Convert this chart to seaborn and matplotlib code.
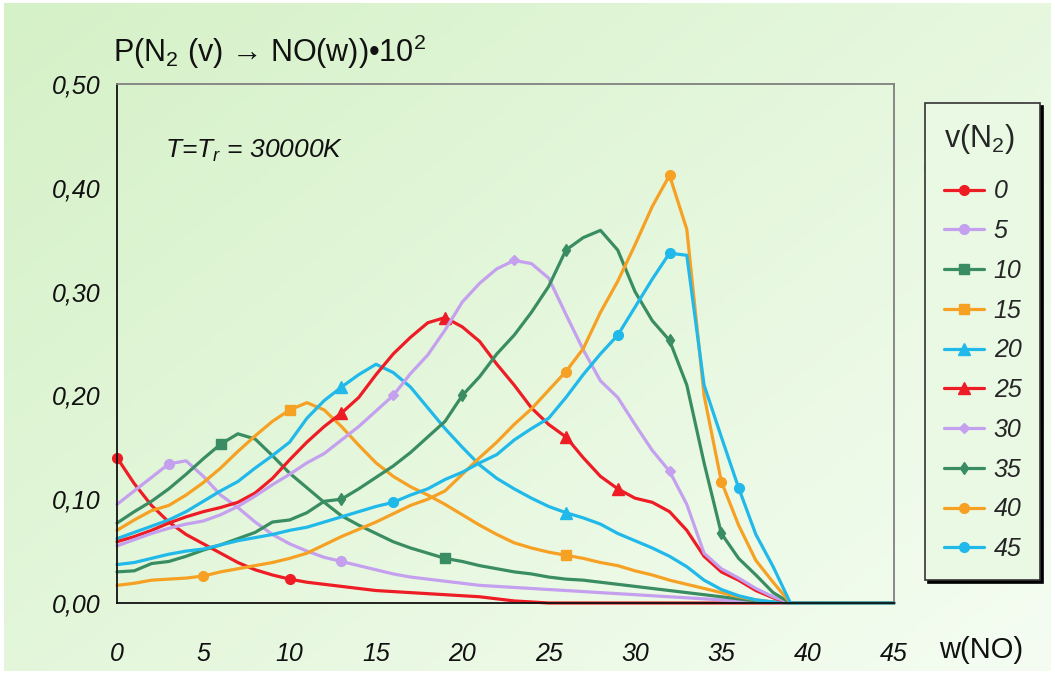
import numpy as np
import pandas as pd
import matplotlib
matplotlib.use("Agg")
import matplotlib.pyplot as plt
import seaborn as sns
from matplotlib.lines import Line2D

# ---------------- data ----------------
w_no = list(range(46))

p_v0 = [0.140, 0.115, 0.094, 0.078, 0.066, 0.057, 0.048, 0.039, 0.032, 0.027,
        0.023, 0.020, 0.018, 0.016, 0.014, 0.012, 0.011, 0.010, 0.009, 0.008,
        0.007, 0.006, 0.004, 0.002, 0.001, 0.000, 0.000, 0.000, 0.000, 0.000,
        0.000, 0.000, 0.000, 0.000, 0.000, 0.000, 0.000, 0.000, 0.000, 0.000,
        0.000, 0.000, 0.000, 0.000, 0.000, 0.000]
p_v5 = [0.095, 0.108, 0.121, 0.134, 0.137, 0.122, 0.104, 0.092, 0.078, 0.066,
        0.057, 0.050, 0.044, 0.040, 0.036, 0.032, 0.028, 0.025, 0.023, 0.021,
        0.019, 0.017, 0.016, 0.015, 0.014, 0.013, 0.012, 0.011, 0.010, 0.009,
        0.008, 0.007, 0.006, 0.005, 0.004, 0.003, 0.002, 0.001, 0.0005, 0.000,
        0.000, 0.000, 0.000, 0.000, 0.000, 0.000]
p_v10 = [0.077, 0.088, 0.098, 0.110, 0.124, 0.139, 0.153, 0.163, 0.158, 0.142,
         0.125, 0.111, 0.097, 0.084, 0.075, 0.067, 0.059, 0.053, 0.048, 0.043,
         0.040, 0.036, 0.033, 0.030, 0.028, 0.025, 0.023, 0.022, 0.020, 0.018,
         0.016, 0.014, 0.012, 0.010, 0.008, 0.006, 0.004, 0.002, 0.001, 0.000,
         0.000, 0.000, 0.000, 0.000, 0.000, 0.000]
p_v15 = [0.070, 0.080, 0.089, 0.094, 0.104, 0.116, 0.130, 0.146, 0.161, 0.175,
         0.186, 0.193, 0.186, 0.170, 0.152, 0.135, 0.122, 0.112, 0.104, 0.095,
         0.085, 0.075, 0.066, 0.058, 0.053, 0.049, 0.046, 0.043, 0.039, 0.036,
         0.031, 0.027, 0.022, 0.018, 0.014, 0.010, 0.006, 0.003, 0.001, 0.000,
         0.000, 0.000, 0.000, 0.000, 0.000, 0.000]
p_v20 = [0.062, 0.068, 0.074, 0.080, 0.088, 0.098, 0.108, 0.117, 0.130, 0.142,
         0.155, 0.178, 0.195, 0.208, 0.220, 0.230, 0.222, 0.208, 0.188, 0.168,
         0.150, 0.133, 0.120, 0.110, 0.101, 0.093, 0.087, 0.082, 0.076, 0.067,
         0.060, 0.053, 0.045, 0.035, 0.022, 0.013, 0.007, 0.003, 0.001, 0.000,
         0.000, 0.000, 0.000, 0.000, 0.000, 0.000]
p_v25 = [0.059, 0.064, 0.070, 0.077, 0.083, 0.088, 0.092, 0.097, 0.106, 0.120,
         0.138, 0.155, 0.170, 0.183, 0.198, 0.220, 0.240, 0.256, 0.270, 0.275,
         0.266, 0.252, 0.230, 0.210, 0.188, 0.172, 0.160, 0.140, 0.122, 0.110,
         0.101, 0.097, 0.088, 0.070, 0.045, 0.030, 0.022, 0.012, 0.005, 0.000,
         0.000, 0.000, 0.000, 0.000, 0.000, 0.000]
p_v30 = [0.055, 0.061, 0.067, 0.072, 0.076, 0.079, 0.085, 0.093, 0.103, 0.114,
         0.124, 0.135, 0.144, 0.157, 0.170, 0.185, 0.200, 0.221, 0.239, 0.263,
         0.290, 0.308, 0.322, 0.330, 0.327, 0.313, 0.278, 0.244, 0.214, 0.198,
         0.172, 0.147, 0.127, 0.095, 0.048, 0.033, 0.024, 0.014, 0.006, 0.000,
         0.000, 0.000, 0.000, 0.000, 0.000, 0.000]
p_v35 = [0.030, 0.031, 0.038, 0.040, 0.045, 0.051, 0.056, 0.062, 0.068, 0.078,
         0.080, 0.087, 0.098, 0.100, 0.110, 0.121, 0.132, 0.145, 0.160, 0.175,
         0.200, 0.218, 0.240, 0.258, 0.280, 0.305, 0.340, 0.352, 0.359, 0.340,
         0.300, 0.272, 0.253, 0.210, 0.135, 0.067, 0.043, 0.027, 0.010, 0.000,
         0.000, 0.000, 0.000, 0.000, 0.000, 0.000]
p_v40 = [0.017, 0.019, 0.022, 0.023, 0.024, 0.026, 0.030, 0.033, 0.036, 0.039,
         0.043, 0.048, 0.056, 0.064, 0.071, 0.078, 0.086, 0.094, 0.100, 0.108,
         0.124, 0.140, 0.155, 0.172, 0.187, 0.205, 0.223, 0.245, 0.280, 0.310,
         0.345, 0.382, 0.412, 0.360, 0.200, 0.117, 0.075, 0.041, 0.020, 0.000,
         0.000, 0.000, 0.000, 0.000, 0.000, 0.000]
p_v45 = [0.037, 0.039, 0.043, 0.047, 0.050, 0.052, 0.056, 0.060, 0.063, 0.066,
         0.070, 0.073, 0.078, 0.083, 0.088, 0.093, 0.097, 0.104, 0.110, 0.119,
         0.126, 0.135, 0.143, 0.157, 0.168, 0.178, 0.198, 0.220, 0.240, 0.258,
         0.285, 0.312, 0.337, 0.335, 0.210, 0.160, 0.111, 0.066, 0.035, 0.000,
         0.000, 0.000, 0.000, 0.000, 0.000, 0.000]

v_labels = ["0", "5", "10", "15", "20", "25", "30", "35", "40", "45"]
series = [p_v0, p_v5, p_v10, p_v15, p_v20, p_v25, p_v30, p_v35, p_v40, p_v45]
# positions (w) where the original chart shows a marker on each curve
marker_w = [[0, 10], [3, 13], [6, 19], [10, 26], [13, 26],
            [13, 19, 26, 29], [16, 23, 32], [13, 20, 26, 32, 35],
            [5, 26, 32, 35], [16, 29, 32, 36]]

x_ticks = [0, 5, 10, 15, 20, 25, 30, 35, 40, 45]
y_ticks = [0.0, 0.1, 0.2, 0.3, 0.4, 0.5]

# ---------------- styles ----------------
colors = ["#ee1d25", "#c4a0ef", "#3a8d62", "#f6a123", "#20b9ea",
          "#ee1d25", "#c4a0ef", "#3a8d62", "#f6a123", "#20b9ea"]
markers = ["o", "o", "s", "s", "^", "^", "D", "d", "o", "o"]
msizes = [7, 7, 7, 7, 8, 8, 5.5, 6.5, 7, 7]

sns.set_theme(style="white")
plt.rcParams["font.family"] = ["Liberation Sans", "DejaVu Sans"]
plt.rcParams["mathtext.fontset"] = "custom"
plt.rcParams["mathtext.rm"] = "Liberation Sans"
plt.rcParams["mathtext.it"] = "Liberation Sans:italic"
plt.rcParams["mathtext.bf"] = "Liberation Sans:bold"

W, H = 1055, 679
fig = plt.figure(figsize=(W / 100, H / 100), dpi=100, facecolor="white")

# gradient background panel
bg = fig.add_axes([0.004, 0.012, 0.992, 0.984], zorder=-10)
gy, gx = np.mgrid[0:1:200j, 0:1:300j]
t = np.clip(0.55 * gx + 0.45 * gy, 0, 1)
c0 = np.array([0.835, 0.945, 0.780])
c1 = np.array([0.960, 0.992, 0.950])
img = c0[None, None, :] * (1 - t[..., None]) + c1[None, None, :] * t[..., None]
bg.imshow(img, aspect="auto", extent=[0, 1, 0, 1], origin="upper")
bg.set_axis_off()

ax = fig.add_axes([117 / W, 1 - 603 / H, (894 - 117) / W, (603 - 84) / H])
ax.set_facecolor("none")

for vals, c, m, ms, mw in zip(series, colors, markers, msizes, marker_w):
    df = pd.DataFrame({"w": w_no, "p": vals})
    sns.lineplot(data=df, x="w", y="p", ax=ax, color=c, lw=2.3,
                 marker=m, markersize=ms, markevery=mw,
                 markeredgecolor=c, markerfacecolor=c, markeredgewidth=1,
                 clip_on=False, legend=False)

ax.set_xlim(0, 45)
ax.set_ylim(0, 0.5)
ax.set_xticks(x_ticks)
ax.set_yticks(y_ticks)
ax.set_xticklabels([str(v) for v in x_ticks], fontsize=18, style="italic")
ax.set_yticklabels([f"{v:.2f}".replace(".", ",") for v in y_ticks],
                   fontsize=18, style="italic")
ax.set_xlabel("")
ax.set_ylabel("")
ax.tick_params(axis="x", direction="out", length=8, width=1.2, pad=20,
               colors="#222222", labelcolor="#111111")
ax.tick_params(axis="y", direction="out", length=7, width=1.2, pad=5,
               colors="#222222", labelcolor="#111111")
for side in ["left", "bottom"]:
    ax.spines[side].set_color("#111111")
    ax.spines[side].set_linewidth(1.3)
for side in ["top", "right"]:
    ax.spines[side].set_visible(True)
    ax.spines[side].set_color("#808080")
    ax.spines[side].set_linewidth(1.3)

# annotation
ax.text(2.8, 0.436, r"T=$T_r$ = 30000K", fontsize=19, style="italic",
        va="center", ha="left", color="#111111")

# title above the plot
fig.text(113 / W, 1 - 62 / H,
         r"P(N$_2$ (v) → NO(w))•10$^2$",
         fontsize=22, ha="left", va="baseline", color="#111111")
# x-axis label
fig.text(939 / W, 1 - 650 / H, "w(NO)", fontsize=21, ha="left",
         va="center", color="#111111")

# legend
handles = [Line2D([], [], color=c, lw=2.3, marker=m, markersize=ms,
                  markeredgecolor=c, markerfacecolor=c)
           for c, m, ms in zip(colors, markers, msizes)]
leg = fig.legend(handles, v_labels, loc="upper left",
                 bbox_to_anchor=(925 / W, 1 - 103 / H),
                 bbox_transform=fig.transFigure, borderaxespad=0,
                 title=r"v(N$_2$)", title_fontproperties={"size": 22},
                 prop={"size": 18, "style": "italic"},
                 frameon=True, fancybox=False,
                 shadow={"facecolor": "black", "edgecolor": "black", "alpha": 1},
                 handlelength=1.6, handletextpad=0.4, labelspacing=0.63,
                 borderpad=0.75, alignment="center")
frame = leg.get_frame()
frame.set_facecolor("#eaf9e4")
frame.set_edgecolor("#333333")
frame.set_linewidth(1.2)
frame.set_alpha(1)
leg._legend_box.align = "left"
leg._legend_box.sep = 17

fig.canvas.draw()
lb = leg.get_window_extent()
tb = leg.get_title().get_window_extent()
hb = leg.get_texts()[0].get_window_extent()
ysep = ((tb.y0 + hb.y1) / 2) / H
fig.add_artist(Line2D([lb.x0 / W, lb.x1 / W], [ysep, ysep],
                      transform=fig.transFigure, color="#333333", lw=1.2))

fig.savefig("out.png", dpi=100, facecolor=fig.get_facecolor())
